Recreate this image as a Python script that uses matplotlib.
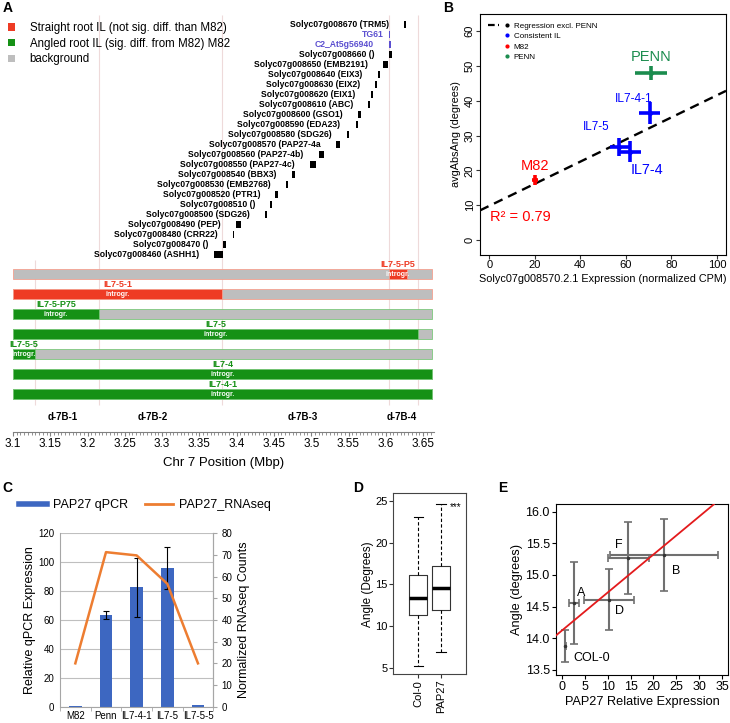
import numpy as np
import matplotlib
matplotlib.use("Agg")
import matplotlib.pyplot as plt
from matplotlib.patches import Patch
from matplotlib.lines import Line2D
from matplotlib.legend_handler import HandlerTuple
from matplotlib.ticker import MultipleLocator, FuncFormatter

plt.rcParams['font.family'] = ['Liberation Sans', 'DejaVu Sans']

# ---------------- data ----------------
# A: genes along chr 7 (Mbp)
gene_labels = ["Solyc07g008670 (TRM5)", "TG61", "C2_At5g56940", "Solyc07g008660 ()",
               "Solyc07g008650 (EMB2191)", "Solyc07g008640 (EIX3)", "Solyc07g008630 (EIX2)",
               "Solyc07g008620 (EIX1)", "Solyc07g008610 (ABC)", "Solyc07g008600 (GSO1)",
               "Solyc07g008590 (EDA23)", "Solyc07g008580 (SDG26)", "Solyc07g008570 (PAP27-4a",
               "Solyc07g008560 (PAP27-4b)", "Solyc07g008550 (PAP27-4c)", "Solyc07g008540 (BBX3)",
               "Solyc07g008530 (EMB2768)", "Solyc07g008520 (PTR1)", "Solyc07g008510 ()",
               "Solyc07g008500 (SDG26)", "Solyc07g008490 (PEP)", "Solyc07g008480 (CRR22)",
               "Solyc07g008470 ()", "Solyc07g008460 (ASHH1)"]
gene_start = [3.6245, 3.6044, 3.6048, 3.6048, 3.5963, 3.5892, 3.5856, 3.5802, 3.5762, 3.5632,
              3.5597, 3.5480, 3.5329, 3.5101, 3.4980, 3.4742, 3.4666, 3.4519, 3.4451, 3.4376,
              3.3995, 3.3947, 3.3821, 3.3696]
gene_end = [3.6276, 3.6057, 3.6075, 3.6080, 3.6034, 3.5923, 3.5887, 3.5833, 3.5785, 3.5664,
            3.5628, 3.5503, 3.5390, 3.5168, 3.5064, 3.4783, 3.4685, 3.4555, 3.4470, 3.4407,
            3.4058, 3.3964, 3.3857, 3.3813]
marker_genes = ["TG61", "C2_At5g56940"]

il_names = ["IL7-5-P5", "IL7-5-1", "IL7-5-P75", "IL7-5", "IL7-5-5", "IL7-4", "IL7-4-1"]
il_start = [3.604, 3.1, 3.1, 3.1, 3.1, 3.1, 3.1]
il_end = [3.628, 3.38, 3.215, 3.643, 3.1295, 3.662, 3.662]
il_group = ["straight", "straight", "angled", "angled", "angled", "angled", "angled"]
bg_start, bg_end = 3.1, 3.662

region_names = ["d-7B-1", "d-7B-2", "d-7B-3", "d-7B-4"]
region_pos = [3.167, 3.288, 3.489, 3.622]
region_bounds = [3.1295, 3.215, 3.38, 3.604, 3.643]

# B: expression vs angle
b_names = ["M82", "IL7-5", "IL7-4", "IL7-4-1", "PENN"]
b_expr = [20.1, 57.2, 61.8, 70.5, 71.0]
b_expr_err = [1.5, 4.0, 5.0, 4.6, 7.0]
b_angle = [17.2, 26.8, 25.4, 36.4, 48.0]
b_angle_err = [1.5, 2.6, 3.1, 3.2, 2.0]
b_kind = ["M82", "IL", "IL", "IL", "PENN"]

# C: qPCR vs RNAseq
c_cats = ["M82", "Penn", "IL7-4-1", "IL7-5", "IL7-5-5"]
c_qpcr = [0.8, 63.5, 82.7, 95.8, 1.0]
c_qpcr_err = [0.0, 2.8, 20.5, 14.6, 0.3]
c_rnaseq = [20.0, 71.3, 69.8, 56.7, 20.0]

# D: boxplot stats
d_labels = ["Col-0", "PAP27"]
d_whislo = [5.27, 6.98]
d_q1 = [11.32, 11.96]
d_med = [13.35, 14.62]
d_q3 = [16.13, 17.17]
d_whishi = [23.0, 24.6]

# E: angle vs PAP27 expression
e_names = ["COL-0", "A", "D", "F", "B"]
e_expr = [0.8, 2.6, 10.3, 14.5, 22.3]
e_expr_err = [0.15, 1.1, 5.4, 4.5, 11.8]
e_angle = [13.88, 14.56, 14.61, 15.27, 15.32]
e_angle_err = [0.25, 0.65, 0.48, 0.57, 0.57]

# ---------------- figure ----------------
W, H = 730, 723
fig = plt.figure(figsize=(W / 100, H / 100), dpi=100)


def rect(l, t, r, b):
    return [l / W, 1 - b / H, (r - l) / W, (b - t) / H]


RED = '#EE3B24'
GREEN = '#169116'
GRAY = '#BEBEBE'
PURPLE = '#5B4FD0'
group_col = {"straight": RED, "angled": GREEN}
group_edge = {"straight": '#F4A090', "angled": '#7CC87C'}

# ---------- A ----------
axA = fig.add_axes(rect(13, 15, 433.5, 432))
axA.set_xlim(3.1, 3.664)
axA.set_ylim(43.2, 1.5)
for s in ['top', 'left', 'right']:
    axA.spines[s].set_visible(False)
axA.spines['bottom'].set_color('#808080')
axA.set_yticks([])
axA.xaxis.set_major_locator(MultipleLocator(0.05))
axA.xaxis.set_minor_locator(MultipleLocator(0.005))
axA.xaxis.set_major_formatter(FuncFormatter(lambda v, p: f'{v:g}'))
axA.tick_params(which='major', length=3, color='#808080', labelsize=8.5, pad=1.5)
axA.tick_params(which='minor', length=1.8, color='#808080')
axA.set_xlabel('Chr 7 Position (Mbp)', fontsize=9.5, labelpad=5)

axA.vlines(region_bounds, [26, 1.5, 1.5, 1.5, 1.5], 40.5, color='#EEDADA', lw=0.8, zorder=0)

gene_y = 2.43 + np.arange(len(gene_labels))
gcols = [PURPLE if g in marker_genes else 'black' for g in gene_labels]
axA.barh(gene_y, np.array(gene_end) - np.array(gene_start), left=gene_start,
         height=0.75, color=gcols)
for lab, x0, y, c in zip(gene_labels, gene_start, gene_y, gcols):
    off = -4 if lab == "TG61" else -11
    axA.annotate(lab, (x0, y), xytext=(off, 0), textcoords='offset points',
                 ha='right', va='center', fontsize=6.2, fontweight='bold', color=c)

il_y = 27.4 + 2 * np.arange(len(il_names))
edges = [group_edge[g] for g in il_group]
axA.barh(il_y, bg_end - bg_start, left=bg_start, height=1.0, color=GRAY,
         edgecolor=edges, lw=0.6)
axA.barh(il_y, np.array(il_end) - np.array(il_start), left=il_start, height=1.0,
         color=[group_col[g] for g in il_group], edgecolor=edges, lw=0.6)
for name, x0, x1, y, g in zip(il_names, il_start, il_end, il_y, il_group):
    xc = (x0 + x1) / 2
    axA.text(xc, y - 0.95, name, ha='center', va='center', fontsize=6.5,
             fontweight='bold', color=group_col[g])
    axA.text(xc, y + 0.05, 'introgr.', ha='center', va='center', fontsize=5,
             fontweight='bold', color='white', clip_on=True)
for name, x in zip(region_names, region_pos):
    axA.text(x, 41.7, name, ha='center', va='center', fontsize=7, fontweight='bold')

fig.legend(handles=[Patch(fc=RED), Patch(fc=GREEN), Patch(fc=GRAY)],
           labels=["Straight root IL (not sig. diff. than M82)",
                   "Angled root IL (sig. diff. from M82) M82", "background"],
           loc='upper left', bbox_to_anchor=(8 / W, 1 - 22 / H), frameon=False,
           fontsize=8.3, handlelength=0.62, handleheight=0.62, handletextpad=1.25,
           labelspacing=0.32, borderpad=0, borderaxespad=0)

# ---------- B ----------
BLUE = '#0000FF'
BRED = '#FF0000'
BGREEN = '#1B8C4E'
kind_col = {"M82": BRED, "IL": BLUE, "PENN": BGREEN}
axB = fig.add_axes(rect(480, 14, 726, 255))
axB.set_xlim(-4.1, 104)
axB.set_ylim(-4.3, 64.9)
for n, x, xe, y, ye, k in zip(b_names, b_expr, b_expr_err, b_angle, b_angle_err, b_kind):
    axB.errorbar(x, y, xerr=xe, yerr=ye, fmt='o', ms=2.5, color=kind_col[k],
                 elinewidth=2.6, capsize=0)
fit = np.polyfit(b_expr[:4], b_angle[:4], 1)
axB.axline((0, fit[1]), slope=fit[0], color='black', lw=1.7, dashes=(4, 2.6), zorder=1)
axB.text(71.0, 52.5, "PENN", color=BGREEN, fontsize=10.5, ha='center', va='center')
axB.text(63.6, 40.5, "IL7-4-1", color=BLUE, fontsize=8.6, ha='center', va='center')
axB.text(46.9, 32.4, "IL7-5", color=BLUE, fontsize=8.4, ha='center', va='center')
axB.text(69.3, 20.1, "IL7-4", color=BLUE, fontsize=10.4, ha='center', va='center')
axB.text(20.1, 21.3, "M82", color=BRED, fontsize=10.5, ha='center', va='center')
axB.text(0.3, 6.7, "R² = 0.79", color=BRED, fontsize=10.5, ha='left', va='center')
axB.set_xticks([0, 20, 40, 60, 80, 100])
axB.set_yticks([0, 10, 20, 30, 40, 50, 60])
axB.tick_params(length=3, labelsize=8, pad=0.8, color='#333333')
for t in axB.get_yticklabels():
    t.set_rotation(90)
    t.set_va('center')
for s in axB.spines.values():
    s.set_linewidth(0.8)
axB.set_xlabel("Solyc07g008570.2.1 Expression (normalized CPM)", fontsize=7.8, labelpad=3)
axB.set_ylabel("avgAbsAng (degrees)", fontsize=7.8, labelpad=3)
dot = dict(ls='none', marker='o', ms=2)
hB = [(Line2D([], [], color='black', lw=1.6, dashes=(3, 1.5)), Line2D([], [], color='black', **dot)),
      (Line2D([], [], ls='none'), Line2D([], [], color=BLUE, **dot)),
      (Line2D([], [], ls='none'), Line2D([], [], color=BRED, **dot)),
      (Line2D([], [], ls='none'), Line2D([], [], color=BGREEN, **dot))]
axB.legend(hB, ["Regression excl. PENN", "Consistent IL", "M82", "PENN"],
           handler_map={tuple: HandlerTuple(ndivide=2, pad=0.2)},
           loc='upper left', frameon=False, fontsize=5.8, handlelength=3.0,
           handletextpad=0.2, labelspacing=0.35, borderaxespad=0.6)

# ---------- C ----------
QBLUE = '#3D67C1'
ORANGE = '#ED7D31'
axC = fig.add_axes(rect(60, 533.3, 213.3, 706.7))
xc = np.arange(len(c_cats))
axC.set_xlim(-0.5, len(c_cats) - 0.5)
axC.set_ylim(0, 120)
axC.yaxis.grid(True, color='#BFBFBF', lw=0.8)
axC.set_axisbelow(True)
axC.bar(xc, c_qpcr, width=0.41, color=QBLUE, zorder=2)
axC.errorbar(xc[1:4], c_qpcr[1:4], yerr=c_qpcr_err[1:4], fmt='none', ecolor='black',
             elinewidth=0.8, capsize=2.2, capthick=0.8, zorder=3)
axC.set_yticks(range(0, 121, 20))
axC.set_xticks(xc)
axC.set_xticklabels(c_cats)
axC.set_xticks(np.arange(-0.5, len(c_cats)), minor=True)
axC.tick_params(axis='x', which='major', length=0, labelsize=7, pad=3)
axC.tick_params(axis='x', which='minor', length=3, color='#A6A6A6')
axC.tick_params(axis='y', length=0, labelsize=7, pad=4)
axC.spines['top'].set_visible(False)
for s in ['left', 'right', 'bottom']:
    axC.spines[s].set_color('#A6A6A6')
axC.set_ylabel("Relative qPCR Expression", fontsize=9, labelpad=2)
axC2 = axC.twinx()
axC2.set_ylim(0, 80)
axC2.plot(xc, c_rnaseq, color=ORANGE, lw=1.8, zorder=4)
axC2.set_yticks(range(0, 81, 10))
axC2.tick_params(axis='y', length=3, color='#A6A6A6', labelsize=7, pad=3)
for s in ['top', 'left', 'bottom']:
    axC2.spines[s].set_visible(False)
axC2.spines['right'].set_color('#A6A6A6')
axC2.set_ylabel("Normalized RNAseq Counts", fontsize=9, labelpad=4)
fig.legend([Line2D([], [], color=QBLUE, lw=4), Line2D([], [], color=ORANGE, lw=2)],
           ["PAP27 qPCR", "PAP27_RNAseq"], loc='center',
           bbox_to_anchor=(145 / W, 1 - 505 / H), ncol=2, frameon=False, fontsize=9,
           handlelength=2.25, handletextpad=0.5, columnspacing=1.3)

# ---------- D ----------
axD = fig.add_axes(rect(393.3, 493.3, 466, 674.3))
stats = [dict(label=l, whislo=a, q1=b, med=c, q3=d, whishi=e)
         for l, a, b, c, d, e in zip(d_labels, d_whislo, d_q1, d_med, d_q3, d_whishi)]
axD.bxp(stats, positions=[1, 2], widths=0.8, showfliers=False,
        boxprops=dict(lw=0.8, color='#333333'),
        medianprops=dict(lw=2.5, color='black'),
        whiskerprops=dict(lw=0.8, ls=(0, (3, 2)), color='black'),
        capprops=dict(lw=0.8, color='black'))
axD.set_xlim(-0.1, 3.1)
axD.set_ylim(4.28, 25.88)
axD.set_yticks([5, 10, 15, 20, 25])
axD.tick_params(axis='y', length=3, labelsize=8, pad=1, color='#333333')
axD.tick_params(axis='x', length=3, labelsize=8, pad=1, color='#333333')
for t in axD.get_xticklabels():
    t.set_rotation(90)
for s in axD.spines.values():
    s.set_linewidth(0.8)
    s.set_color('#444444')
axD.text(2.66, 24.2, "***", ha='center', va='center', fontsize=7)
axD.set_ylabel("Angle (Degrees)", fontsize=8.5, labelpad=1)

# ---------- E ----------
axE = fig.add_axes(rect(556, 504.3, 728.3, 675))
axE.set_xlim(-1.24, 36.3)
axE.set_ylim(13.42, 16.117)
axE.errorbar(e_expr, e_angle, xerr=e_expr_err, yerr=e_angle_err, fmt='o', ms=1.5,
             color='#333333', ecolor='#707070', elinewidth=1.5, capsize=3, capthick=1.2)
fitE = np.polyfit(e_expr, e_angle, 1)
axE.axline((0, fitE[1]), slope=fitE[0], color='#E31A1C', lw=1.3, zorder=3)
e_offsets = [(6, -8.4), (5.3, 7), (7.7, -8.2), (-6.7, 9.6), (9, -11.5)]
for n, x, y, (dx, dy) in zip(e_names, e_expr, e_angle, e_offsets):
    ha = 'left' if n == "COL-0" else 'center'
    axE.annotate(n, (x, y), xytext=(dx, dy), textcoords='offset points',
                 ha=ha, va='center', fontsize=9)
axE.set_xticks(range(0, 36, 5))
axE.set_yticks([13.5, 14.0, 14.5, 15.0, 15.5, 16.0])
axE.yaxis.set_major_formatter(FuncFormatter(lambda v, p: f'{v:.1f}'))
axE.tick_params(length=3, labelsize=9, pad=1.5)
for s in axE.spines.values():
    s.set_linewidth(0.8)
axE.set_xlabel("PAP27 Relative Expression", fontsize=9.2, labelpad=2)
axE.set_ylabel("Angle (degrees)", fontsize=9.2, labelpad=2)

# panel letters
for letter, x, y in [("A", 3, 8), ("B", 443, 7.5), ("C", 2, 487.7), ("D", 353, 487.5), ("E", 498, 487.5)]:
    fig.text(x / W, 1 - y / H, letter, fontsize=10, fontweight='bold', va='center', ha='left')

fig.savefig("out.png", dpi=100)
